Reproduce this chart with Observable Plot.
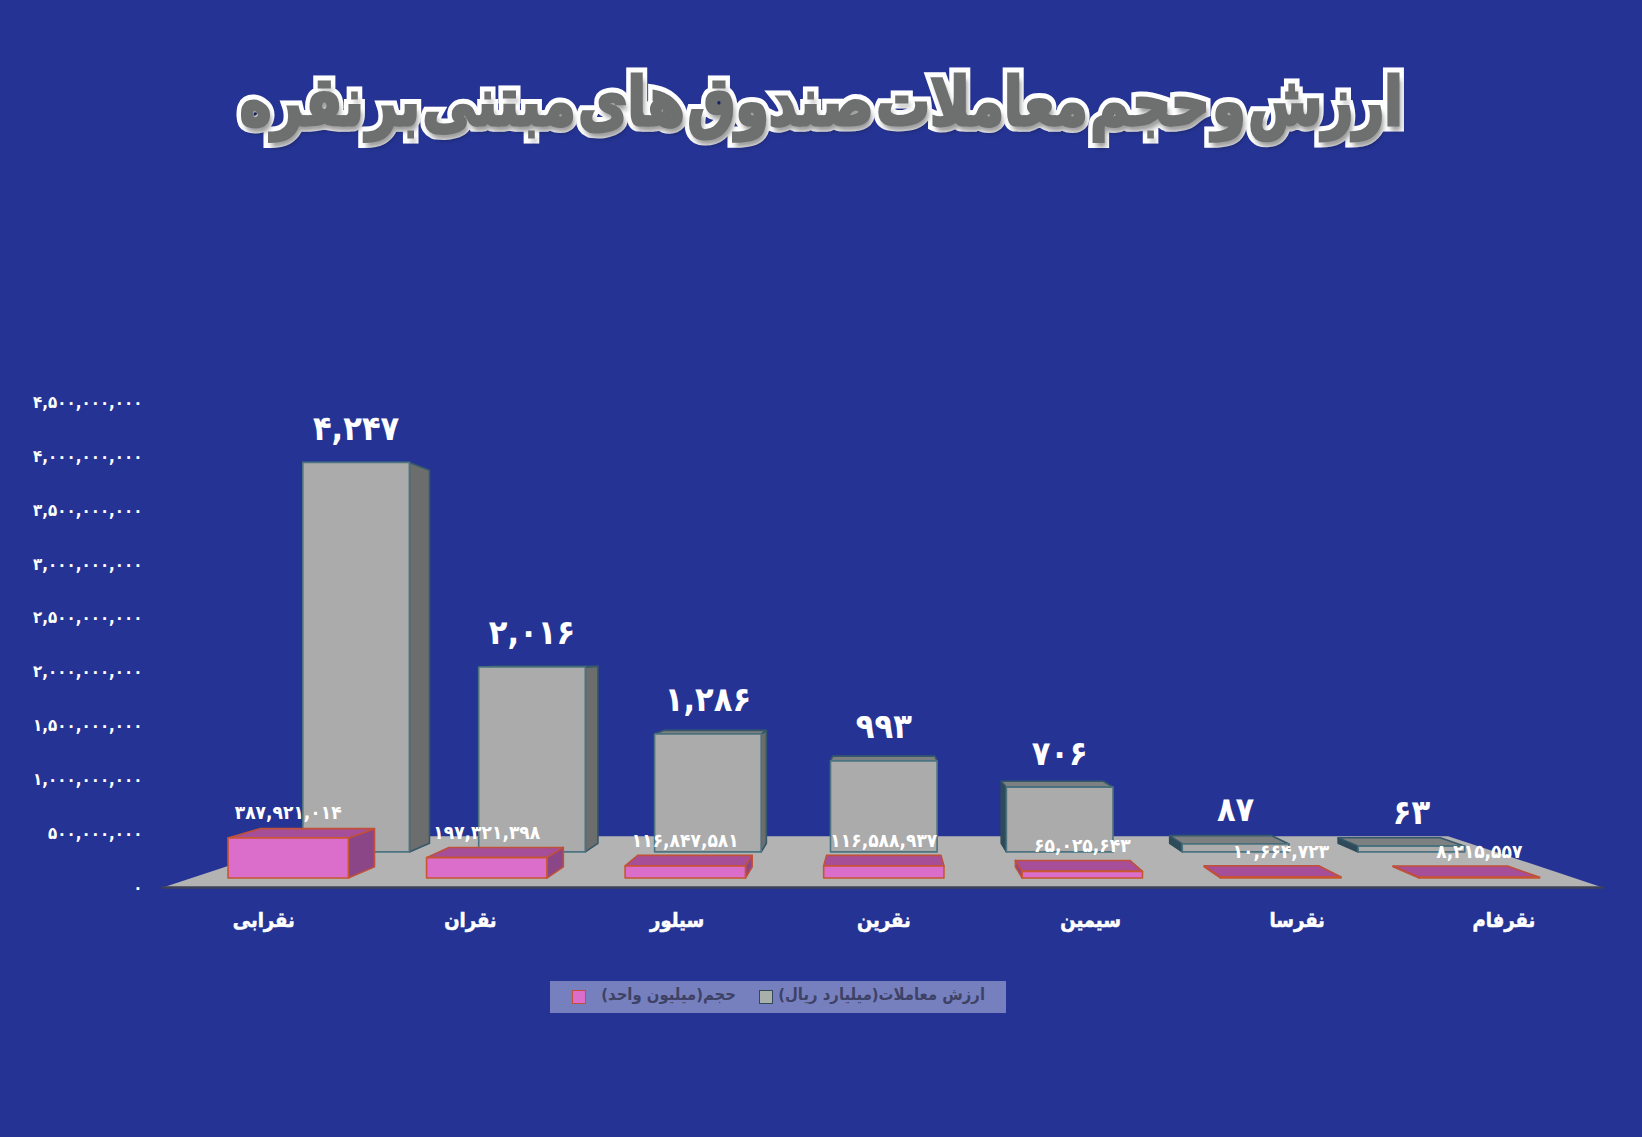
<!DOCTYPE html>
<html lang="fa">
<head>
<meta charset="utf-8">
<script src="https://cdn.jsdelivr.net/npm/d3@7"></script>
<script src="https://cdn.jsdelivr.net/npm/@observablehq/plot@0.6"></script>
<style>
  html, body { margin: 0; padding: 0; background: #253494; }
  body { width: 1642px; height: 1137px; overflow: hidden; font-family: "DejaVu Sans Condensed", "DejaVu Sans", sans-serif; }
  #title {
    height: 180px; box-sizing: border-box; padding-top: 52px; margin: 0;
    line-height: 100px; text-align: center; direction: rtl;
    font-size: 67px; font-weight: bold; color: #6e7070; white-space: nowrap;
  }
  #title span {
    display: inline-block; position: relative; transform: scaleX(.89); word-spacing: -18px;
    -webkit-text-stroke: 13px #fff; paint-order: stroke fill;
    text-shadow: 3px 6px 6px rgba(0,0,0,.4);
  }
  #title span::after {
    content: attr(data-t); position: absolute; left: 0; right: 0; top: 0;
    -webkit-text-stroke: 3px #6e7070; text-shadow: none;
  }
  #chart svg { display: block; }
  #chart svg g[aria-label="x-axis tick label"] text { font-weight: bold; stroke: white; stroke-width: .5px; }
  #chart svg g[aria-label="y-axis tick label"] text { font-weight: bold; }
  #legend { position: relative; margin-left: 550px; margin-top: 6px; width: 456px; height: 32px; background: #7680bf;
    color: #3e4266; font-weight: bold; font-size: 16.5px; direction: rtl; }
  #legend span { position: absolute; top: 0; line-height: 28px; white-space: nowrap; }
  #legend i { position: absolute; top: 9px; width: 14px; height: 14px; box-sizing: border-box; border: 1.5px solid; }
</style>
</head>
<body>
<h1 id="title"><span data-t="ارزش و حجم معاملات صندوق های مبتنی بر نقره">ارزش و حجم معاملات صندوق های مبتنی بر نقره</span></h1>
<div id="chart"></div>
<div id="legend">
  <i style="left:22px;background:#dc6ecb;border-color:#c0503a"></i>
  <span style="right:270px">حجم(میلیون واحد)</span>
  <i style="left:209px;background:#a9b0a9;border-color:#33485a"></i>
  <span style="right:21px">ارزش معاملات(میلیارد ریال)</span>
</div>
<script>
const categories = ["نقرابی", "نقران", "سیلور", "نقرین", "سیمین", "نقرسا", "نقرفام"];
const tradeValue = [4247, 2016, 1286, 993, 706, 87, 63];           // billion rials
const tradeVolume = [387921014, 197321398, 116847581, 116588937, 65025643, 10664723, 8215557];
const axisTicks = [0, 5e8, 1e9, 1.5e9, 2e9, 2.5e9, 3e9, 3.5e9, 4e9, 4.5e9];

const faDigits = "۰۱۲۳۴۵۶۷۸۹";
const fa = v => d3.format(",")(v).replace(/\d/g, c => faDigits[+c]);

// one-point perspective in data units: a point recedes toward the vanishing point by its depth d
const vanishX = 3, vanishY = 2.216e9;
const P = (x, y, d) => ({x: x + (vanishX - x) * d, y: y + (vanishY - y) * d});

const halfWidth = 0.303;
function box(values, frontDepth, backDepth) {
  const right = [], left = [], top = [], front = [];
  values.forEach((v, i) => {
    const l = i - halfWidth, r = i + halfWidth;
    const poly = (arr, id, pts) => pts.forEach(p => arr.push({id, ...P(...p)}));
    if (r < vanishX) poly(right, "r" + i, [[r,0,frontDepth],[r,v,frontDepth],[r,v,backDepth],[r,0,backDepth]]);
    if (l > vanishX) poly(left, "l" + i, [[l,0,frontDepth],[l,v,frontDepth],[l,v,backDepth],[l,0,backDepth]]);
    if (v < vanishY) poly(top, "t" + i, [[l,v,frontDepth],[r,v,frontDepth],[r,v,backDepth],[l,v,backDepth]]);
    poly(front, "f" + i, [[l,0,frontDepth],[r,0,frontDepth],[r,v,frontDepth],[l,v,frontDepth]]);
  });
  return {right, left, top, front};
}
const face = (rows, fill, stroke, strokeWidth = 1.6) =>
  Plot.line(rows, {x: "x", y: "y", z: "id", curve: "linear-closed", fill, stroke, strokeWidth, strokeLinejoin: "round"});

const tradeUnits = tradeValue.map(v => v * 1e6);
const grey = box(tradeUnits, 0.149, 0.185);
const pink = box(tradeVolume, 0.0395, 0.0864);

const planeLeft = -0.488, planeRight = 6.478, planeBack = 0.215;
const floor = [[planeLeft,0,0],[planeRight,0,0],[planeRight,0,planeBack],[planeLeft,0,planeBack]].map(p => ({id: "floor", ...P(...p)}));
const floorEdge = floor.slice(0, 2);

const cond = "'DejaVu Sans Condensed', 'DejaVu Sans', sans-serif";
const chart = Plot.plot({
  width: 1642, height: 795,
  marginLeft: 147, marginRight: 139, marginTop: 222, marginBottom: 88,
  style: {background: "transparent", color: "white", overflow: "visible", fontFamily: cond},
  x: {type: "linear", domain: [0, 6], range: [263.2, 1503.4]},
  y: {domain: [0, 4.5e9]},
  marks: [
    face(floor, "#b3b3b3", "none", 0),
    Plot.line(floorEdge, {x: "x", y: "y", stroke: "#3c4158", strokeWidth: 2.5}),
    face(grey.right, "#6c6e6e", "#35586a"),
    face(grey.left, "#2f4a58", "#2f4a58"),
    face(grey.top, "#7c8080", "#35586a"),
    face(grey.front, "#ababab", "#4b7480"),
    Plot.text(tradeValue, {
      x: (d, i) => P(i, tradeUnits[i], 0.149).x,
      y: (d, i) => P(i, tradeUnits[i], 0.149).y,
      text: d => fa(d), dy: -33.5, fill: "white", fontSize: 34, fontWeight: "bold"
    }),
    face(pink.right, "#8a4686", "#c0503a"),
    face(pink.left, "#8a4686", "#c0503a"),
    face(pink.top, "#a64e98", "#c0503a"),
    face(pink.front, "#dc6ecb", "#c8562f"),
    Plot.text(tradeVolume, {
      x: (d, i) => P(i, d, 0.0395).x,
      y: (d, i) => P(i, d, 0.0395).y,
      text: d => fa(d), dy: -25, fill: "white", fontSize: 19, fontWeight: "bold"
    }),
    Plot.axisY(axisTicks, {anchor: "left", tickSize: 0, tickPadding: 5, label: null, tickFormat: fa, fill: "white", fontSize: 16.8, fontWeight: "bold"}),
    Plot.axisX(d3.range(7), {anchor: "bottom", tickSize: 0, tickPadding: 25, label: null, tickFormat: i => categories[i], fill: "white", fontSize: 20, fontWeight: "bold"})
  ]
});
document.getElementById("chart").appendChild(chart);
</script>
</body>
</html>
